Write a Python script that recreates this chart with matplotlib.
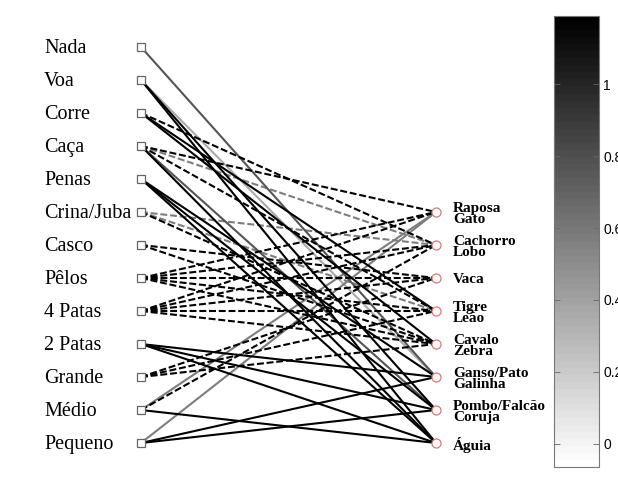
import numpy as np
import matplotlib
matplotlib.use("Agg")
import matplotlib.pyplot as plt
from matplotlib.colors import Normalize
from matplotlib.cm import ScalarMappable

plt.rcParams["lines.scale_dashes"] = False

# Features (left column) and animal groups (right column)
features = ["Nada", "Voa", "Corre", "Caça", "Penas", "Crina/Juba", "Casco",
            "Pêlos", "4 Patas", "2 Patas", "Grande", "Médio", "Pequeno"]
groups = ["Raposa\nGato", "Cachorro\nLobo", "Vaca", "Tigre\nLeão",
          "Cavalo\nZebra", "Ganso/Pato\nGalinha", "Pombo/Falcão\nCoruja", "Águia"]
group_rows = [5, 6, 7, 8, 9, 10, 11, 12]
group_is_mammal = [True, True, True, True, True, False, False, False]

# Connection strength of each feature (same order as `features`) to each group
raposa_gato   = [0, 0, 0, 1, 0, 0, 0, 1, 1, 0, 0, 0.5, 0.5]
cachorro_lobo = [0, 0, 1, 0.5, 0, 0.5, 0, 1, 1, 0, 0, 1, 0]
vaca          = [0, 0, 0, 0, 0, 0, 1, 1, 1, 0, 1, 0, 0]
tigre_leao    = [0, 0, 1, 1, 0, 0.5, 0, 1, 1, 0, 1, 0, 0]
cavalo_zebra  = [0, 0, 1, 0, 0, 1, 1, 1, 1, 0, 1, 0, 0]
ganso_galinha = [0.67, 0.33, 0, 0, 1, 0, 0, 0, 0, 1, 0, 0, 1]
pombo_coruja  = [0, 1, 0, 0.67, 1, 0, 0, 0, 0, 1, 0, 0, 1]
aguia         = [0, 1, 0, 1, 1, 0, 0, 0, 0, 1, 0, 1, 0]

weights = np.column_stack([raposa_gato, cachorro_lobo, vaca, tigre_leao,
                           cavalo_zebra, ganso_galinha, pombo_coruja, aguia])

cbar_ticks = [0, 0.2, 0.4, 0.6, 0.8, 1]
cbar_labels = ["0", "0.2", "0.4", "0.6", "0.8", "1"]

cmap = plt.get_cmap("gray_r", 64)
bar_norm = Normalize(vmin=-0.065, vmax=1.19)
line_norm = Normalize(vmin=0.0, vmax=1.0)

W, H = 618, 487
fig = plt.figure(figsize=(W / 100, H / 100), dpi=100)
fig.patch.set_facecolor("white")

ax = fig.add_axes([141 / W, 44 / H, 295 / W, 396 / H])
ax.set_xlim(0, 1)
ax.set_ylim(12, 0)
ax.axis("off")

# on-screen steepness of an edge (rows are 33 px apart, columns 295 px)
row_to_x = 33.0 / 295.0

# Edges: lighter first so darker ones sit on top; shallow links into the
# mammal groups are dashed, everything else solid
order = np.argsort(weights, axis=None, kind="stable")
for flat in order:
    i, j = np.unravel_index(flat, weights.shape)
    w = weights[i, j]
    if w <= 0:
        continue
    steep = abs(group_rows[j] - i) * row_to_x
    ls = (0, (5, 2)) if (group_is_mammal[j] and steep < 0.6) else "-"
    ax.plot([0, 1], [i, group_rows[j]], color=cmap(line_norm(w)), lw=1.5,
            ls=ls, clip_on=False, zorder=2, solid_capstyle="butt",
            dash_capstyle="butt")

# Nodes
ax.plot(np.zeros(len(features)), np.arange(len(features)), ls="none",
        marker="s", ms=5.5, mfc="white", mec="#666666", mew=0.9,
        clip_on=False, zorder=3)
ax.plot(np.ones(len(groups)), group_rows, ls="none", marker="o", ms=6.5,
        mfc="white", mec="#e07878", mew=0.9, clip_on=False, zorder=3)

for i, name in enumerate(features):
    ax.text(-0.329, i + 0.05, name, ha="left", va="center", fontsize=14.5,
            family="Liberation Serif", color="black")

for r, name in zip(group_rows, groups):
    ax.text(1.058, r + 0.06, name, ha="left", va="center", fontsize=11,
            family="Liberation Serif", fontweight="bold", linespacing=0.85,
            color="black")

# Colour bar
cax = fig.add_axes([554 / W, 20 / H, 45 / W, 451 / H])
sm = ScalarMappable(norm=bar_norm, cmap=cmap)
cb = fig.colorbar(sm, cax=cax)
cb.set_ticks(cbar_ticks)
cb.set_ticklabels(cbar_labels)
cb.outline.set_edgecolor("#777777")
cb.outline.set_linewidth(0.8)
cax.yaxis.set_ticks_position("both")
cax.tick_params(axis="y", direction="in", length=4, width=0.6, color="#666666",
                labelleft=False, labelright=True, labelsize=10, pad=3)
for lbl in cax.get_yticklabels():
    lbl.set_family("Liberation Sans")

fig.savefig("out.png", dpi=100, facecolor="white")
